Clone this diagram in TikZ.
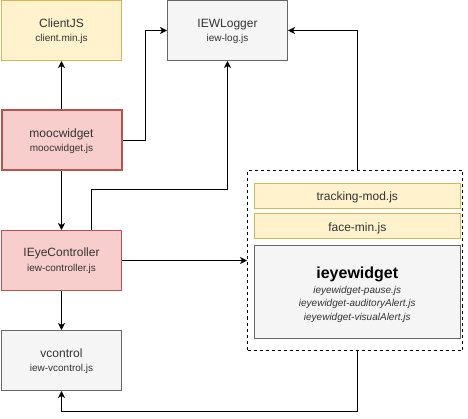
\documentclass[tikz,border=0pt]{standalone}
\usepackage{fontspec}
\setmainfont{Liberation Sans}
\usetikzlibrary{arrows.meta}
\definecolor{yfill}{HTML}{FFF2CC}
\definecolor{ydraw}{HTML}{D6B656}
\definecolor{rfill}{HTML}{F8CECC}
\definecolor{rdraw}{HTML}{B85450}
\definecolor{gfill}{HTML}{F5F5F5}
\definecolor{gdraw}{HTML}{666666}
\definecolor{gtext}{HTML}{333333}
\tikzset{
  box/.style={rectangle, inner sep=0pt, minimum width=120pt, minimum height=60pt, line width=1pt},
  ybox/.style={box, fill=yfill, draw=ydraw},
  rbox/.style={box, fill=rfill, draw=rdraw},
  gbox/.style={box, fill=gfill, draw=gdraw},
  ttl/.style={anchor=base, inner sep=0pt, font=\fontsize{12}{14}\selectfont},
  sub/.style={anchor=base, inner sep=0pt, font=\fontsize{10}{12}\selectfont},
  arr/.style={draw=black, line width=1pt, -{Stealth[length=7pt,width=7pt,inset=2pt]}},
}
\begin{document}
\begin{tikzpicture}[x=1pt,y=-1pt]
\useasboundingbox (0,0) rectangle (468,419);
% boxes
\node[ybox] (client) at (61.5,30.5) {};
\node[ttl, text=gtext] (clientT) at (61.5,27.5) {ClientJS};
\node[sub, text=gtext] (clientS) at (61.5,41.5) {client.min.js};

\node[gbox] (logger) at (227.5,30.5) {};
\node[ttl, text=gtext] (loggerT) at (227.5,27.5) {IEWLogger};
\node[sub, text=gtext] (loggerS) at (227.5,41.5) {iew-log.js};

\node[rbox, line width=2pt] (mooc) at (61.5,140.5) {};
\node[ttl, text=gtext] (moocT) at (61.5,137.5) {moocwidget};
\node[sub, text=gtext] (moocS) at (61.5,151.5) {moocwidget.js};

\node[rbox] (ieye) at (61.5,260.5) {};
\node[ttl, text=gtext] (ieyeT) at (61.5,257.0) {IEyeController};
\node[sub, text=gtext] (ieyeS) at (61.5,271.5) {iew-controller.js};

\node[gbox] (vctrl) at (61.5,360.5) {};
\node[ttl, text=gtext] (vctrlT) at (61.5,357.5) {vcontrol};
\node[sub, text=gtext] (vctrlS) at (61.5,371.5) {iew-vcontrol.js};

% container
\node[rectangle, draw=black, fill=white, line width=1pt, dash pattern=on 3pt off 3pt,
      inner sep=0pt, minimum width=215pt, minimum height=180pt] (cont) at (355,260.5) {};
\node[rectangle, fill=yfill, draw=ydraw, line width=1pt, inner sep=0pt,
      minimum width=206pt, minimum height=25pt] (track) at (357.3,196) {};
\node[ttl, text=gtext] (trackT) at (357.3,200.5) {tracking-mod.js};
\node[rectangle, fill=yfill, draw=ydraw, line width=1pt, inner sep=0pt,
      minimum width=206pt, minimum height=25pt] (face) at (357.3,226.5) {};
\node[ttl, text=gtext] (faceT) at (357.3,231.3) {face-min.js};
\node[rectangle, fill=gfill, draw=gdraw, line width=1pt, inner sep=0pt,
      minimum width=206pt, minimum height=92pt] (ieyew) at (357.3,292) {};
\node[anchor=base, inner sep=0pt, font=\fontsize{16}{19}\selectfont\bfseries] (ieyewT) at (357.3,278.3) {ieyewidget};
\node[sub, text=gtext, font=\fontsize{10}{12}\selectfont\itshape] (ieyew1) at (357.3,293.3) {ieyewidget-pause.js};
\node[sub, text=gtext, font=\fontsize{10}{12}\selectfont\itshape] (ieyew2) at (357.3,306.8) {ieyewidget-auditoryAlert.js};
\node[sub, text=gtext, font=\fontsize{10}{12}\selectfont\itshape] (ieyew3) at (357.3,320.3) {ieyewidget-visualAlert.js};

% connectors
\draw[arr] (mooc.north) -- (client.south);
\draw[arr] (mooc.east) -- ++(23,0) |- (logger.west);
\draw[arr] (mooc.south) -- (ieye.north);
\draw[arr] ([xshift=30pt]ieye.north) -- ++(0,-40) -| (logger.south);
\draw[arr] (ieye.east) -- (cont.west);
\draw[arr] (ieye.south) -- (vctrl.north);
\draw[arr] ([xshift=2pt]cont.south) -- ++(0,60) -| (vctrl.south);
\draw[arr] ([xshift=2pt]cont.north) |- (logger.east);
\end{tikzpicture}
\end{document}
